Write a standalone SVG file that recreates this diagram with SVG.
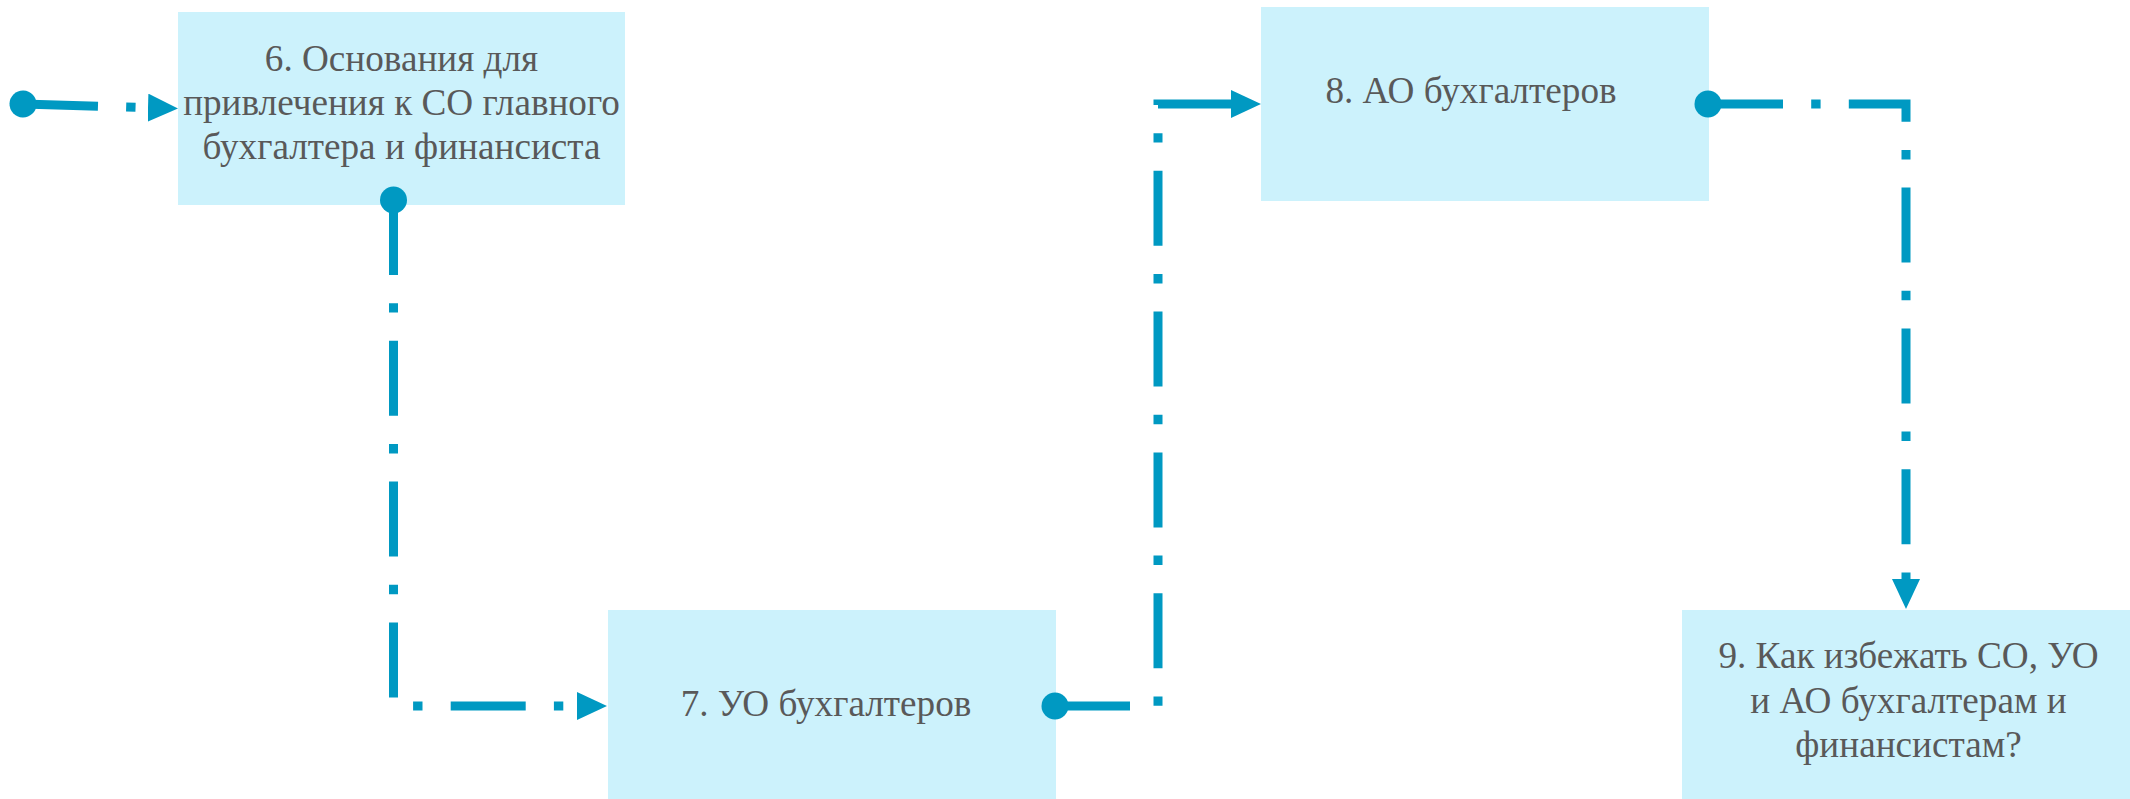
<svg xmlns="http://www.w3.org/2000/svg" width="2130" height="799" viewBox="0 0 2130 799">
  <style>
    .box { fill: #CCF2FC; }
    .lbl { font-family: "Liberation Serif", "Times New Roman", "DejaVu Serif", serif; font-size: 37.2px; fill: #595959; text-anchor: middle; }
    .conn { fill: none; stroke: #0099C2; stroke-width: 9; stroke-dasharray: 75 28.2 9.4 28.2; stroke-linejoin: miter; marker-start: url(#dot); marker-end: url(#arrow); }
  </style>
  <defs>
    <marker id="dot" markerUnits="userSpaceOnUse" markerWidth="28" markerHeight="28" viewBox="0 0 28 28" refX="14" refY="14" orient="auto">
      <circle cx="14" cy="14" r="13.5" fill="#0099C2"/>
    </marker>
    <marker id="arrow" markerUnits="userSpaceOnUse" markerWidth="30" markerHeight="28" viewBox="0 0 30 28" refX="2" refY="14" orient="auto">
      <path d="M0,0 L30,14 L0,28 Z" fill="#0099C2"/>
    </marker>
  </defs>
  <rect width="2130" height="799" fill="#FFFFFF"/>
  <g id="node6">
    <rect class="box" x="178" y="12" width="447" height="193"/>
    <text class="lbl" x="401.5" y="70.7">6. Основания для</text>
    <text class="lbl" x="401.5" y="115">привлечения к СО главного</text>
    <text class="lbl" x="401.5" y="159.3">бухгалтера и финансиста</text>
  </g>
  <g id="node7">
    <rect class="box" x="608" y="610" width="448" height="193"/>
    <text class="lbl" x="826" y="716">7. УО бухгалтеров</text>
  </g>
  <g id="node8">
    <rect class="box" x="1261" y="7" width="448" height="194"/>
    <text class="lbl" x="1471" y="103.3">8. АО бухгалтеров</text>
  </g>
  <g id="node9">
    <rect class="box" x="1682" y="610" width="448" height="193"/>
    <text class="lbl" x="1908.5" y="668.3">9. Как избежать СО, УО</text>
    <text class="lbl" x="1908.5" y="713.3">и АО бухгалтерам и</text>
    <text class="lbl" x="1908.5" y="757.3">финансистам?</text>
  </g>
  <g id="connectors">
    <path class="conn" d="M23,104 L150,107.7"/>
    <path class="conn" d="M393.5,200 V706 H579"/>
    <path class="conn" d="M1055,706 H1158 V104 H1233"/>
    <path class="conn" d="M1708,104 H1906 V581"/>
  </g>
</svg>
